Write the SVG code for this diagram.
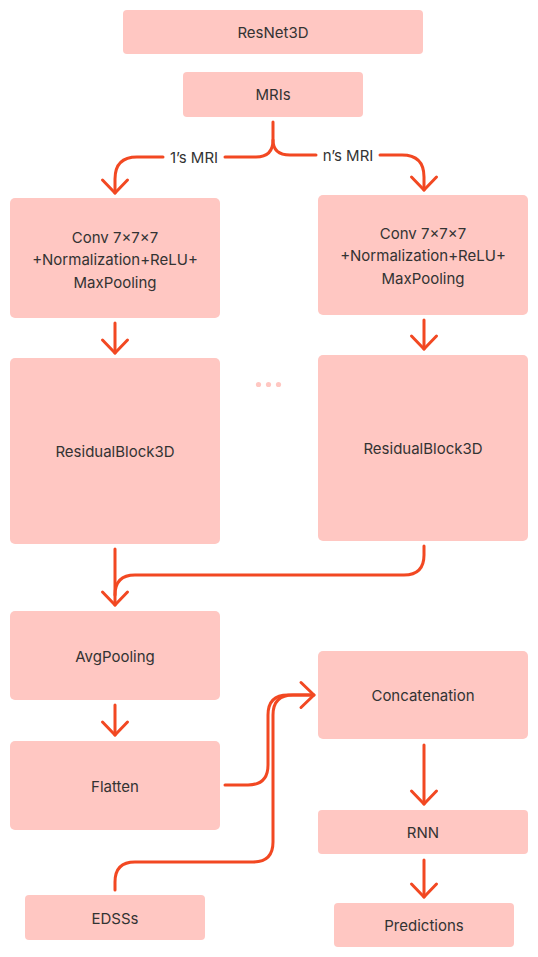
<svg xmlns="http://www.w3.org/2000/svg" width="538" height="957" viewBox="0 0 538 957">
<style>
.box{fill:#FFC7C2;}
.t{font-family:Inter,"Noto Sans","Liberation Sans",sans-serif;font-size:15px;fill:#333333;text-anchor:middle;dominant-baseline:central;}
.c{fill:none;stroke:#F24822;stroke-width:3;stroke-linecap:round;stroke-linejoin:round;}
</style>
<defs>
<marker id="ah" markerUnits="userSpaceOnUse" markerWidth="40" markerHeight="40" viewBox="-20 -20 40 40" refX="0" refY="0" orient="auto">
<path d="M-13,-12.5 L0,0 L-13,12.5" fill="none" stroke="#F24822" stroke-width="3" stroke-linecap="round" stroke-linejoin="round"/>
</marker>
</defs>
<rect width="538" height="957" fill="#FFFFFF"/>
<g id="connectors">
<path class="c" d="M273,122 V140 Q273,157 256,157 H225"/>
<path class="c" d="M163,157 H137 Q115,157 115,179 V193" marker-end="url(#ah)"/>
<path class="c" d="M273,140 Q273,155 290,155 H316"/>
<path class="c" d="M380,155 H402 Q424,155 424,177 V190" marker-end="url(#ah)"/>
<path class="c" d="M115,323 V353" marker-end="url(#ah)"/>
<path class="c" d="M424,320 V349" marker-end="url(#ah)"/>
<path class="c" d="M115,549 V605" marker-end="url(#ah)"/>
<path class="c" d="M424,546 V555 Q424,575 404,575 H135 Q115,575 115,595"/>
<path class="c" d="M115,705 V735" marker-end="url(#ah)"/>
<path class="c" d="M225,785 H248 Q268,785 268,765 V715 Q268,695 288,695 H314" marker-end="url(#ah)"/>
<path class="c" d="M115,890 V882 Q115,862 135,862 H253 Q273,862 273,842 V715 Q273,695 293,695 H312"/>
<path class="c" d="M424,745 V804" marker-end="url(#ah)"/>
<path class="c" d="M424,860 V897" marker-end="url(#ah)"/>
</g>
<g id="label-1">
<text class="t" x="194" y="157">1’s MRI</text>
</g>
<g id="label-n">
<text class="t" x="348" y="155">n’s MRI</text>
</g>
<g id="resnet3d">
<rect class="box" x="123" y="10" width="300" height="44" rx="4"/>
<text class="t" x="273" y="32">ResNet3D</text>
</g>
<g id="mris">
<rect class="box" x="183" y="72" width="180" height="45" rx="4"/>
<text class="t" x="273" y="94.5">MRIs</text>
</g>
<g id="conv-1">
<rect class="box" x="10" y="198" width="210" height="120" rx="5"/>
<text class="t" x="115" y="237">Conv 7×7×7</text>
<text class="t" x="115" y="259.5">+Normalization+ReLU+</text>
<text class="t" x="115" y="282">MaxPooling</text>
</g>
<g id="conv-n">
<rect class="box" x="318" y="195" width="210" height="120" rx="5"/>
<text class="t" x="423" y="233">Conv 7×7×7</text>
<text class="t" x="423" y="255.5">+Normalization+ReLU+</text>
<text class="t" x="423" y="278">MaxPooling</text>
</g>
<g id="ellipsis">
<circle cx="258.5" cy="384.5" r="2.6" fill="#FFC7C2"/>
<circle cx="268.5" cy="384.5" r="2.6" fill="#FFC7C2"/>
<circle cx="278.5" cy="384.5" r="2.6" fill="#FFC7C2"/>
</g>
<g id="resblock-1">
<rect class="box" x="10" y="358" width="210" height="186" rx="5"/>
<text class="t" x="115" y="451.5">ResidualBlock3D</text>
</g>
<g id="resblock-n">
<rect class="box" x="318" y="355" width="210" height="186" rx="5"/>
<text class="t" x="423" y="448.5">ResidualBlock3D</text>
</g>
<g id="avgpooling">
<rect class="box" x="10" y="611" width="210" height="89" rx="5"/>
<text class="t" x="115" y="656">AvgPooling</text>
</g>
<g id="flatten">
<rect class="box" x="10" y="741" width="210" height="89" rx="5"/>
<text class="t" x="115" y="786">Flatten</text>
</g>
<g id="concatenation">
<rect class="box" x="318" y="651" width="210" height="88" rx="5"/>
<text class="t" x="423" y="695.5">Concatenation</text>
</g>
<g id="rnn">
<rect class="box" x="318" y="810" width="210" height="44" rx="4"/>
<text class="t" x="423" y="832.5">RNN</text>
</g>
<g id="edsss">
<rect class="box" x="25" y="895" width="180" height="45" rx="4"/>
<text class="t" x="115" y="918">EDSSs</text>
</g>
<g id="predictions">
<rect class="box" x="334" y="903" width="180" height="44" rx="4"/>
<text class="t" x="424" y="925">Predictions</text>
</g>
</svg>
